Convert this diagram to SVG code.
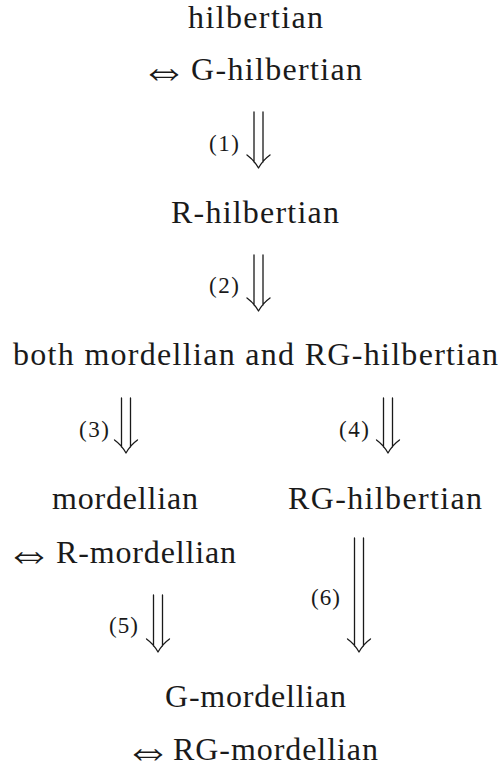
<svg xmlns="http://www.w3.org/2000/svg" width="500" height="770" viewBox="0 0 500 770">
<defs>
<style>
.t{font-family:'Liberation Serif','Times New Roman',serif;font-size:32px;fill:#1a1a1a;text-anchor:middle}
.s{font-family:'Liberation Serif','Times New Roman',serif;font-size:32px;fill:#1a1a1a;text-anchor:start}
.q{font-family:'DejaVu Sans ExtraLight','DejaVu Sans',sans-serif;font-weight:200;font-size:48px;fill:#1a1a1a;text-anchor:start}
.l{font-family:'Liberation Serif','Times New Roman',serif;font-size:23px;fill:#1a1a1a;text-anchor:middle}
.a{fill:none;stroke:#1a1a1a;stroke-width:1.3;stroke-linecap:round;stroke-linejoin:round}
</style>
</defs>
<rect width="500" height="770" fill="#fff"/>
<g id="n1"><text class="t" x="255.5" y="28" textLength="135">hilbertian</text><text class="q" x="140" y="86">⇔</text><text class="s" x="191" y="80" textLength="171">G-hilbertian</text></g>
<g id="n2"><text class="t" x="255" y="223" textLength="168">R-hilbertian</text></g>
<g id="n3"><text class="t" x="255.5" y="365" textLength="485">both mordellian and RG-hilbertian</text></g>
<g id="n4"><text class="t" x="125" y="509" textLength="146">mordellian</text><text class="q" x="5" y="569">⇔</text><text class="s" x="56" y="563" textLength="180">R-mordellian</text></g>
<g id="n5"><text class="t" x="385" y="509" textLength="194">RG-hilbertian</text></g>
<g id="n6"><text class="t" x="255.5" y="707" textLength="181">G-mordellian</text><text class="q" x="124" y="766">⇔</text><text class="s" x="173" y="760" textLength="205">RG-mordellian</text></g>
<g id="connectors">
<g id="e1"><path class="a" d="M254,112V162M263,112V162M247,155Q254,160 258.5,168Q263,160 270,155"/><text class="l" x="224" y="151" textLength="30">(1)</text></g>
<g id="e2"><path class="a" d="M254,255V305M263,255V305M247,298Q254,303 258.5,311Q263,303 270,298"/><text class="l" x="224" y="293" textLength="30">(2)</text></g>
<g id="e3"><path class="a" d="M121.5,398V447M130.5,398V447M114.5,440Q121.5,445 126,453Q130.5,445 137.5,440"/><text class="l" x="94" y="437" textLength="30">(3)</text></g>
<g id="e4"><path class="a" d="M383.5,398V447M392.5,398V447M376.5,440Q383.5,445 388,453Q392.5,445 399.5,440"/><text class="l" x="354" y="437" textLength="30">(4)</text></g>
<g id="e5"><path class="a" d="M153.5,595V646M162.5,595V646M146.5,639Q153.5,644 158,652Q162.5,644 169.5,639"/><text class="l" x="123.5" y="633" textLength="29">(5)</text></g>
<g id="e6"><path class="a" d="M354.5,538V646M363.5,538V646M347.5,639Q354.5,644 359,652Q363.5,644 370.5,639"/><text class="l" x="325.5" y="605" textLength="29">(6)</text></g>
</g>
</svg>
